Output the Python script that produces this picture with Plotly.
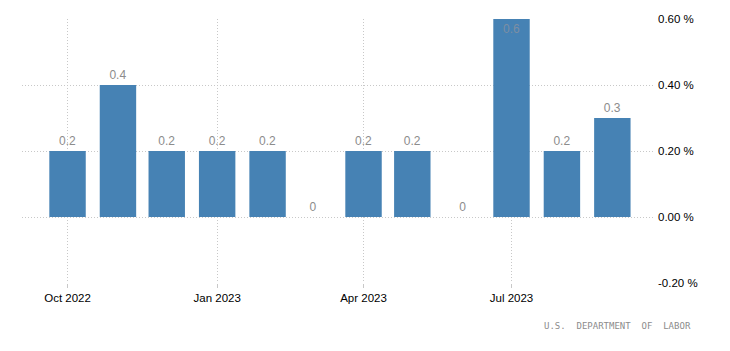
import plotly.graph_objects as go

months = ["2022-10-01", "2022-11-01", "2022-12-01", "2023-01-01", "2023-02-01", "2023-03-01",
          "2023-04-01", "2023-05-01", "2023-06-01", "2023-07-01", "2023-08-01", "2023-09-01"]
values = [0.2, 0.4, 0.2, 0.2, 0.2, 0, 0.2, 0.2, 0, 0.6, 0.2, 0.3]
labels = ["0.2", "0.4", "0.2", "0.2", "0.2", "0", "0.2", "0.2", "0", "0.6", "0.2", "0.3"]
y_ticks = [-0.2, 0.0, 0.2, 0.4, 0.6]
y_tick_text = ["-0.20 %", "0.00 %", "0.20 %", "0.40 %", "0.60 %"]
source = "U.S.  DEPARTMENT  OF  LABOR"

FONT = "Liberation Sans, Arial, sans-serif"
y_max = max(y_ticks)
positions = ["inside" if v >= y_max else "outside" for v in values]

fig = go.Figure(go.Bar(
    x=months, y=values, text=labels, textposition=positions,
    insidetextanchor="end",
    width=22.4 * 86400000,
    marker=dict(color="#4682B4", line=dict(width=0)),
    textfont=dict(family=FONT, size=12, color="#8c8c8c"),
    insidetextfont=dict(family=FONT, size=12, color="#7d8ea3"),
    outsidetextfont=dict(family=FONT, size=12, color="#8c8c8c"),
    cliponaxis=False, hoverinfo="skip",
))

fig.update_layout(
    width=730, height=351,
    margin=dict(l=22, r=77, t=19, b=68),
    paper_bgcolor="white", plot_bgcolor="white",
    showlegend=False,
    font=dict(family=FONT, size=11.5, color="#000"),
    uniformtext=dict(minsize=8, mode="show"),
    xaxis=dict(
        type="date", range=["2022-09-03", "2023-09-26"],
        tick0="2022-10-01", dtick="M3", tickformat="%b %Y",
        showgrid=True, gridcolor="#c8c8c8", griddash="1px,2px", gridwidth=1,
        ticks="outside", ticklen=4, tickcolor="#c8c8c8",
        showline=False, zeroline=False,
        tickfont=dict(family=FONT, size=11.5, color="#000"),
    ),
    yaxis=dict(
        side="right", range=[-0.2, 0.6],
        tickvals=y_ticks, ticktext=y_tick_text,
        showgrid=True, gridcolor="#c8c8c8", griddash="1px,2px", gridwidth=1,
        zeroline=False, showline=False, ticks="", ticklabelstandoff=4,
        tickfont=dict(family=FONT, size=11.5, color="#000"),
    ),
    annotations=[dict(
        text=source, xref="paper", yref="paper", x=1.063, y=-0.135,
        xanchor="right", yanchor="top", showarrow=False,
        font=dict(family="DejaVu Sans Mono, monospace", size=9, color="#8c8c8c"),
    )],
)

fig.write_html("out.html")
